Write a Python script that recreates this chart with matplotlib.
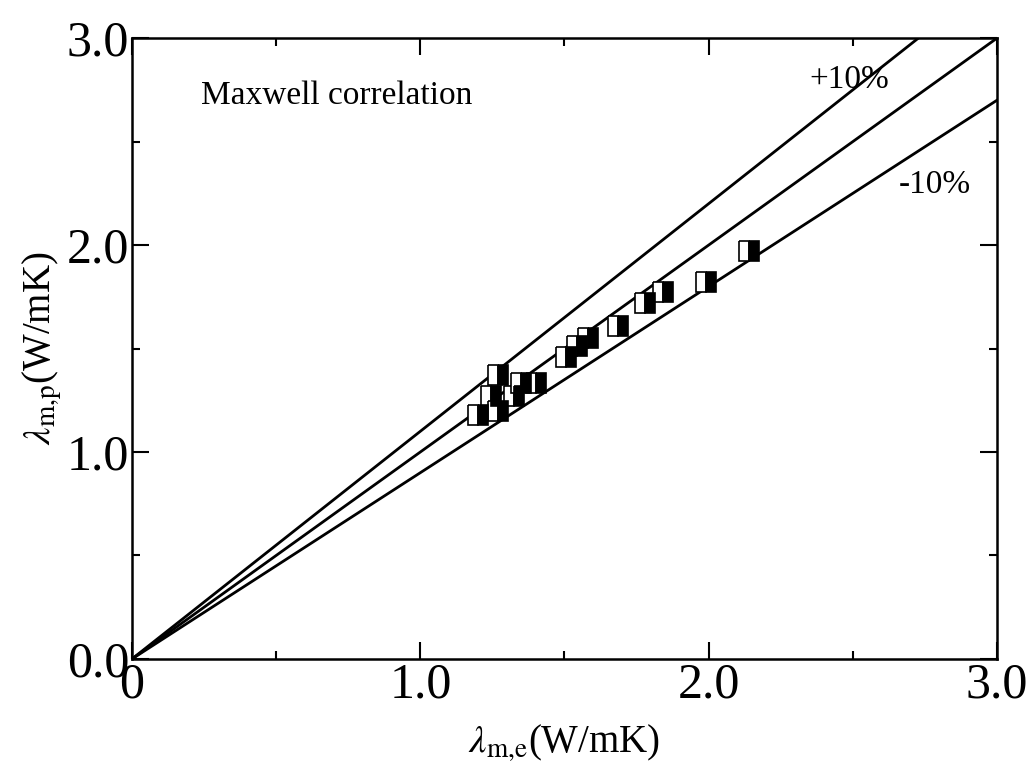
import numpy as np
import matplotlib
matplotlib.use('Agg')
from matplotlib import pyplot as plt

lam_e = [1.20, 1.245, 1.27, 1.27, 1.325, 1.35, 1.40, 1.505, 1.545, 1.58, 1.685, 1.78, 1.84, 1.99, 2.14]
lam_p = [1.18, 1.27, 1.37, 1.20, 1.27, 1.335, 1.335, 1.46, 1.51, 1.55, 1.61, 1.72, 1.775, 1.82, 1.97]

ratios = [1.1, 1.0, 0.9]
line_x = [0.0, 3.0]

plt.rcParams['font.family'] = ['Liberation Serif', 'DejaVu Serif']
plt.rcParams['mathtext.fontset'] = 'stix'

fig = plt.figure(figsize=(10.35, 7.78), dpi=100)
ax = fig.add_axes([0.1275, 0.153, 0.8358, 0.798])

for r in ratios:
    ax.plot(line_x, [r * v for v in line_x], color='black', lw=2.0)

ax.plot(lam_e, lam_p, linestyle='none', marker='s', markersize=14,
        fillstyle='left', markerfacecolor='white', markerfacecoloralt='black',
        markeredgecolor='black', markeredgewidth=1.2)

ax.set_xlim(0, 3.0)
ax.set_ylim(0, 3.0)
ax.set_xticks([0, 1, 2, 3])
ax.set_xticklabels(['0', '1.0', '2.0', '3.0'])
ax.set_yticks([0, 1, 2, 3])
ax.set_yticklabels(['0.0', '1.0', '2.0', '3.0'])
ax.set_xticks([0.5, 1.5, 2.5], minor=True)
ax.set_yticks([0.5, 1.5, 2.5], minor=True)
ax.tick_params(which='both', direction='in', top=True, right=True, width=1.5)
ax.tick_params(which='major', length=12, labelsize=36, pad=2)
ax.tick_params(which='minor', length=6)
for s in ax.spines.values():
    s.set_linewidth(1.8)

ax.text(0.24, 2.72, 'Maxwell correlation', fontsize=24, va='center')
ax.text(2.35, 2.80, '+10%', fontsize=24, va='center')
ax.text(2.66, 2.29, '-10%', fontsize=24, va='center')

ax.set_xlabel(r'$\lambda_{\mathrm{m{,}e}}$(W/mK)', fontsize=28, labelpad=10)
ax.set_ylabel(r'$\lambda_{\mathrm{m{,}p}}$(W/mK)', fontsize=28, labelpad=2)

fig.savefig('out.png', dpi=100)
